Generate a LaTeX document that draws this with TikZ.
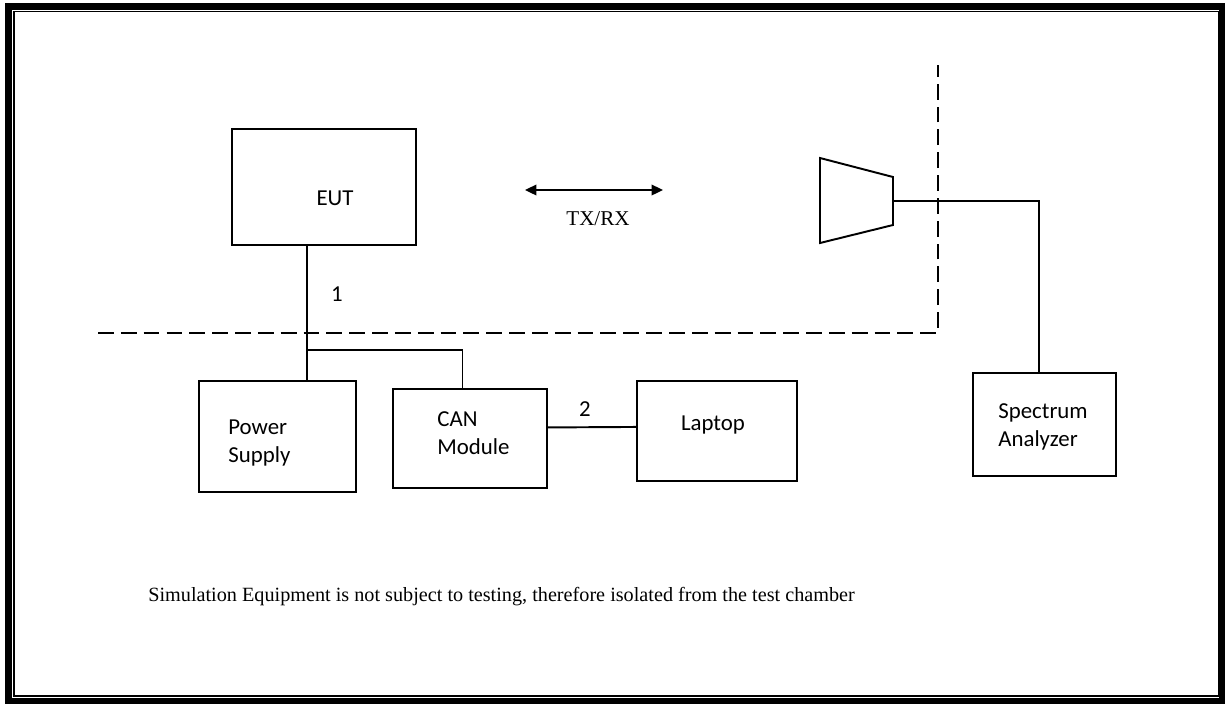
\documentclass[tikz,border=0pt]{standalone}
\usepackage{fontspec}
\setmainfont{Liberation Serif}
\newfontfamily\boxfont{Carlito}
\usetikzlibrary{arrows.meta,calc}

\begin{document}
\begin{tikzpicture}[x=0.02cm,y=-0.02cm,
    box/.style={draw,line width=1.1pt,inner sep=0pt},
    boxtext/.style={font=\boxfont\fontsize{13}{15.9}\selectfont,inner sep=0pt,align=left},
    wire/.style={line width=1.1pt},
    fence/.style={line width=1.1pt,dash pattern=on 9pt off 4pt}]
  \useasboundingbox (0,0) rectangle (1225,704);

  % frame
  \draw[line width=3.6pt] (8.5,6.5) rectangle (1222,701);
  \draw[line width=1pt] (14.2,11.5) rectangle (1219,696);

  % boxes
  \node[box,minimum width=184*0.567pt,minimum height=116*0.567pt] (eut) at (324,187) {};
  \node[box,minimum width=157*0.567pt,minimum height=111*0.567pt] (psu) at (277.5,436.5) {};
  \node[box,minimum width=154*0.567pt,minimum height=99*0.567pt] (can) at (470,438.5) {};
  \node[box,minimum width=160*0.567pt,minimum height=100*0.567pt] (pc) at (717,431) {};
  \node[box,minimum width=143*0.567pt,minimum height=103*0.567pt] (sa) at (1044.5,424.5) {};

  \node[boxtext] (eutlbl) at (335,198) {EUT};
  \node[boxtext,anchor=west] (psulbl) at (228,443) {Power\\Supply};
  \node[boxtext,anchor=west] (canlbl) at (437,433) {CAN\\Module};
  \node[boxtext] (pclbl) at (713,425) {Laptop};
  \node[boxtext,anchor=west] (salbl) at (998,427) {Spectrum\\Analyzer};

  % antenna
  \draw[wire,line join=miter] (820,158) -- (893,177) -- (893,225) -- (820,243) -- cycle;
  \coordinate (ant) at (893,201);

  % chamber boundary
  \draw[fence] (98,333) -- (938,333) -- (938,65);

  % cables
  \coordinate (tap) at ($(eut.south west)!0.41!(eut.south east)$);
  \draw[wire] (tap) -- (tap |- psu.north);
  \draw[line width=0.6pt] (tap |- 0,350) -| ($(can.north west)!0.45!(can.north east)$);
  \draw[wire] ($(can.north east)!0.39!(can.south east)$) -- ($(pc.north west)!0.46!(pc.south west)$);
  \draw[wire] (ant) -| ($(sa.north west)!0.46!(sa.north east)$);
  \node[boxtext] (c1) at (337,294) {1};
  \node[boxtext] (c2) at (585,409) {2};

  % radio link
  \coordinate (txa) at (525,190);
  \coordinate (txb) at (663,190);
  \draw[line width=1.1pt,{Triangle[length=6.5pt,width=6pt]}-{Triangle[length=6.5pt,width=6pt]}] (txa) -- (txb);
  \node[font=\fontsize{12}{14}\selectfont,inner sep=0pt] (txlbl) at (598,219) {TX/RX};

  \node[font=\fontsize{11.5}{14}\selectfont,inner sep=0pt,anchor=west] (note) at (148,597)
    {Simulation Equipment is not subject to testing, therefore isolated from the test chamber};
\end{tikzpicture}
\end{document}
